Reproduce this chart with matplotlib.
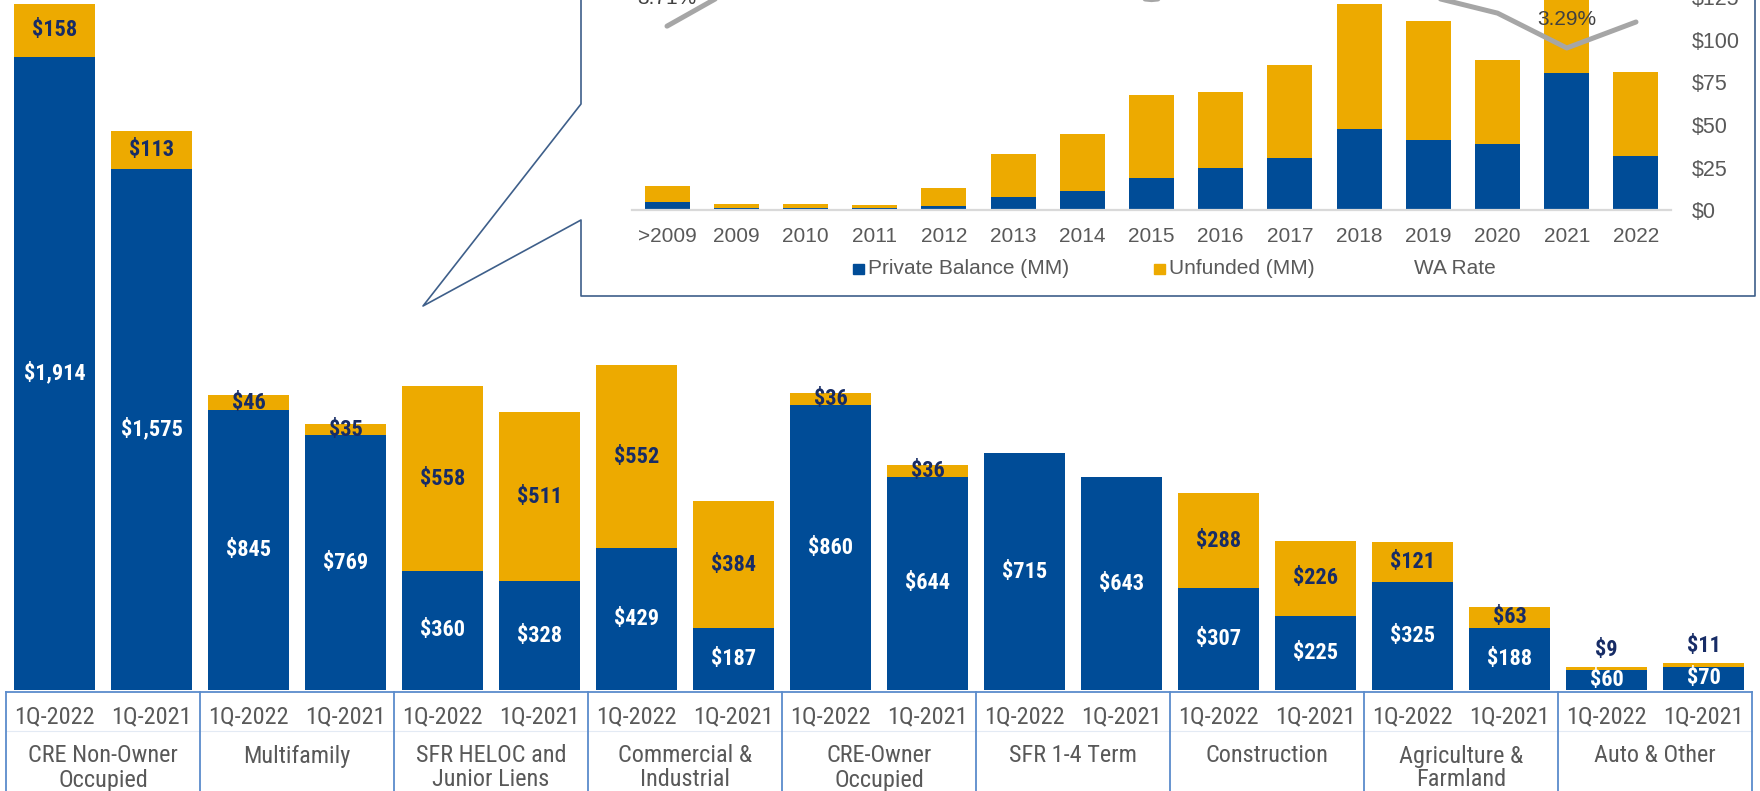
import numpy as np
import matplotlib
matplotlib.use("Agg")
import matplotlib.pyplot as plt
import matplotlib.transforms as mtransforms
from matplotlib.lines import Line2D
from matplotlib.patches import Rectangle

plt.rcParams['font.family'] = ['Liberation Sans', 'DejaVu Sans']
NARROW = ['Roboto Condensed', 'Liberation Sans', 'DejaVu Sans']

# main chart data ($MM)
categories = ["CRE Non-Owner\nOccupied", "Multifamily", "SFR HELOC and\nJunior Liens",
              "Commercial &\nIndustrial", "CRE-Owner\nOccupied", "SFR 1-4 Term",
              "Construction", "Agriculture &\nFarmland", "Auto & Other"]
quarters = ["1Q-2022", "1Q-2021"]
private_22 = [1914, 845, 360, 429, 860, 715, 307, 325, 60]
private_21 = [1575, 769, 328, 187, 644, 643, 225, 188, 70]
unfunded_22 = [158, 46, 558, 552, 36, 0, 288, 121, 9]
unfunded_21 = [113, 35, 511, 384, 36, 0, 226, 63, 11]

# inset data (vintage)
years = [">2009", "2009", "2010", "2011", "2012", "2013", "2014", "2015",
         "2016", "2017", "2018", "2019", "2020", "2021", "2022"]
private_bal = [4.7, 1.0, 1.0, 0.9, 2.5, 7.4, 10.9, 18.8, 24.7, 30.4, 47.6, 41.4, 38.8, 80.4, 31.8]
unfunded_bal = [9.4, 2.3, 2.3, 2.2, 10.2, 25.5, 34.0, 49.0, 44.5, 54.9, 73.5, 70.0, 49.6, 56.0, 49.4]
wa_rate = [3.71, 4.46, 4.75, 4.90, 4.60, 4.45, 4.35, 4.22, 4.35, 4.55, 4.45, 4.29, 3.96, 3.29, 3.79]

BLUE = "#004C97"
GOLD = "#EDAA00"
NAVY = "#172C66"
GRAY_TXT = "#595959"
BOX = "#5B8BCB"
W, H = 1760, 791


def fx(px):
    return px / W


def fy(px):
    # pixel from top -> figure fraction
    return 1 - px / H


fig = plt.figure(figsize=(W / 100, H / 100), dpi=100)

# ---- main stacked bars ----
ax = fig.add_axes([fx(6), fy(690), (1752 - 6) / W, 695 / H])
private = [v for pair in zip(private_22, private_21) for v in pair]
unfunded = [v for pair in zip(unfunded_22, unfunded_21) for v in pair]
x = np.arange(len(private))
ax.bar(x, private, width=0.845, color=BLUE)
ax.bar(x, unfunded, bottom=private, width=0.845, color=GOLD)
ax.set_xlim(-0.5, len(x) - 0.5)
ax.set_ylim(0, 2100)
ax.axis('off')

lab = dict(ha='center', fontsize=16, fontweight='bold', family=NARROW)
for i, (p, u) in enumerate(zip(private, unfunded)):
    ax.text(i, p / 2, f"${p:,}", va='center', color='white', **lab)
    if u == 0:
        continue
    if u < 20:
        ax.annotate(f"${u:,}", xy=(i, p + u), xytext=(0, 6), textcoords='offset pixels',
                    va='bottom', color=NAVY, **lab)
    else:
        ax.text(i, p + u / 2, f"${u:,}", va='center', color=NAVY, **lab)

# category boxes under the bars
trans = mtransforms.blended_transform_factory(ax.transData, fig.transFigure)
ax.add_line(Line2D([-0.5, len(x) - 0.5], [fy(692), fy(692)], transform=trans,
                   color=BOX, lw=1.3, clip_on=False))
ax.add_line(Line2D([-0.5, len(x) - 0.5], [fy(731), fy(731)], transform=trans,
                   color="#E3EAF4", lw=0.8, clip_on=False))
for g in range(len(categories) + 1):
    xb = 2 * g - 0.5
    ax.add_line(Line2D([xb, xb], [fy(692), fy(800)], transform=trans,
                       color=BOX, lw=1.3, clip_on=False))
for i in x:
    ax.text(i, fy(717), quarters[i % 2], transform=trans, ha='center', va='center',
            color=GRAY_TXT, fontsize=17.5, family=NARROW)
for g, name in enumerate(categories):
    for k, line in enumerate(name.split("\n")):
        ax.text(2 * g + 0.5, fy(756 + 24 * k), line, transform=trans, ha='center',
                va='center', color=GRAY_TXT, fontsize=17.5, family=NARROW)

# ---- inset callout ----
px_x = [581, 581, 423, 581, 581, 1755, 1755]
px_y = [-10, 104, 306, 220, 296, 296, -10]
fig.add_artist(Line2D([fx(v) for v in px_x], [fy(v) for v in px_y],
                      transform=fig.transFigure, color="#3E5F8A", lw=1.2))

ax2 = fig.add_axes([fx(632.4), fy(210), 1038.2 / W, 255 / H])
xi = np.arange(len(years))
ax2.bar(xi, private_bal, width=0.65, color=BLUE)
ax2.bar(xi, unfunded_bal, bottom=private_bal, width=0.65, color=GOLD)
ax2.set_xlim(-0.5, len(years) - 0.5)
ax2.set_ylim(0, 150)
ax2.set_xticks(xi)
ax2.set_xticklabels(years)

ax3 = ax2.twinx()
ax3.set_ylim(0.175, 5.078)
ax3.plot(xi, wa_rate, color="#A6A6A6", lw=3.6, solid_capstyle='round',
         solid_joinstyle='round')
for i, r in enumerate(wa_rate):
    ax3.annotate(f"{r:.2f}%", xy=(i, r), xytext=(0, 28), textcoords='offset pixels',
                 ha='center', va='center', color="#404040", fontsize=15)
ax3.axis('off')

ax2.yaxis.tick_right()
ax2.set_yticks(np.arange(0, 126, 25))
ax2.set_yticklabels([f"${v}" for v in range(0, 126, 25)])
ax2.tick_params(axis='y', length=0, pad=15, labelsize=15.5, labelcolor=GRAY_TXT)
ax2.tick_params(axis='x', length=0, pad=12, labelsize=15, labelcolor=GRAY_TXT)
for s in ['top', 'left', 'right']:
    ax2.spines[s].set_visible(False)
ax2.spines['bottom'].set_color("#D9D9D9")
ax2.spines['bottom'].set_linewidth(1.6)
ax2.patch.set_alpha(0)

# inset legend
fig.add_artist(Rectangle((fx(853), fy(274)), 11 / W, 10 / H, transform=fig.transFigure,
                         color=BLUE))
fig.text(fx(868), fy(269), "Private Balance (MM)", va='center', color=GRAY_TXT, fontsize=15)
fig.add_artist(Rectangle((fx(1154), fy(274)), 11 / W, 10 / H, transform=fig.transFigure,
                         color=GOLD))
fig.text(fx(1169), fy(269), "Unfunded (MM)", va='center', color=GRAY_TXT, fontsize=15)
fig.text(fx(1414), fy(269), "WA Rate", va='center', color=GRAY_TXT, fontsize=15)

fig.savefig("out.png", dpi=100)
